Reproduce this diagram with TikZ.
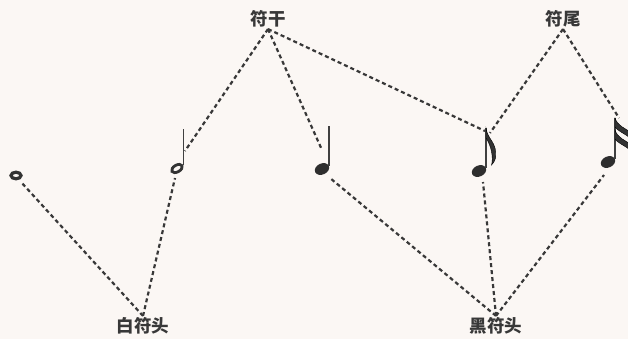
\documentclass[tikz,border=0pt]{standalone}
\usepackage{fontspec}
\newfontfamily\cjk{Noto Sans CJK SC}
\begin{document}
\begin{tikzpicture}[x=1pt,y=-1pt,
  lbl/.style={font=\cjk\bfseries\fontsize{17.5}{17.5}\selectfont, text=black!78, inner sep=1.5pt},
  lead/.style={draw=black!78, line width=2.2pt, dash pattern=on 4pt off 3pt},
  stemline/.style={draw=black!75, line width=1.6pt},
  fillhead/.style={fill=black!82},
  openhead/.style={draw=black!80, line width=3.2pt}]
\fill[white!94!brown] (0,0) rectangle (628,339);
\useasboundingbox (0,0) rectangle (628,339);
% labels
\node[lbl] (gan) at (268,19) {符干};
\node[lbl] (wei) at (563,19) {符尾};
\node[lbl] (bai) at (143,326) {白符头};
\node[lbl] (hei) at (496,326) {黑符头};
% whole note
\draw[openhead] (16,175.5) ellipse [x radius=5, y radius=3.3];
\coordinate (w) at (21,182);
% half note
\draw[openhead, line width=2.8pt, rotate around={30:(177,168.5)}] (177,168.5) ellipse [x radius=5.8, y radius=3.4];
\draw[stemline] (183.5,165) -- (183.5,129);
\coordinate (hs) at (185,151);
\coordinate (hh) at (175,178);
% quarter note
\fill[fillhead, rotate around={25:(322,169)}] (322,169) ellipse [x radius=7.5, y radius=5.5];
\draw[stemline] (329,166) -- (329,126);
\coordinate (qs) at (322,150);
\coordinate (qh) at (330,178);
% eighth note
\fill[fillhead, rotate around={25:(479,171)}] (479,171) ellipse [x radius=7.5, y radius=5.5];
\draw[stemline] (486,168) -- (486,128);
\draw[fill=black!80, line width=0.4pt] (486,128) .. controls (487.5,140) and (497.5,142) .. (495.5,158)
  .. controls (494.5,162) and (492.5,164) .. (491.5,165) .. controls (493.5,158) and (491.5,146) .. (486,138) -- cycle;
\coordinate (es) at (485,131);
\coordinate (ef) at (490,133);
\coordinate (eh) at (483,182);
% sixteenth note
\fill[fillhead, rotate around={25:(608,162)}] (608,162) ellipse [x radius=7.5, y radius=5.5];
\draw[stemline] (615,159) -- (615,118);
\draw[fill=black!80, line width=0.4pt] (615,118) .. controls (617.5,126) and (625,128) .. (630,132)
  -- (630,138) .. controls (624,133) and (617.5,131) .. (615,127) -- cycle;
\draw[fill=black!80, line width=0.4pt] (615,130) .. controls (617.5,138) and (625,140) .. (630,144)
  -- (630,150) .. controls (624,145) and (617.5,143) .. (615,139) -- cycle;
\coordinate (sf) at (619,118);
\coordinate (sh) at (604,175);
% leader lines
\draw[lead] (gan.south) -- (hs);
\draw[lead] (gan.south) -- (qs);
\draw[lead] (gan.south) -- (es);
\draw[lead] (wei.south) -- (ef);
\draw[lead] (wei.south) -- (sf);
\draw[lead] (bai.north) -- (w);
\draw[lead] (bai.north) -- (hh);
\draw[lead] (hei.north) -- (qh);
\draw[lead] (hei.north) -- (eh);
\draw[lead] (hei.north) -- (sh);
\end{tikzpicture}
\end{document}
